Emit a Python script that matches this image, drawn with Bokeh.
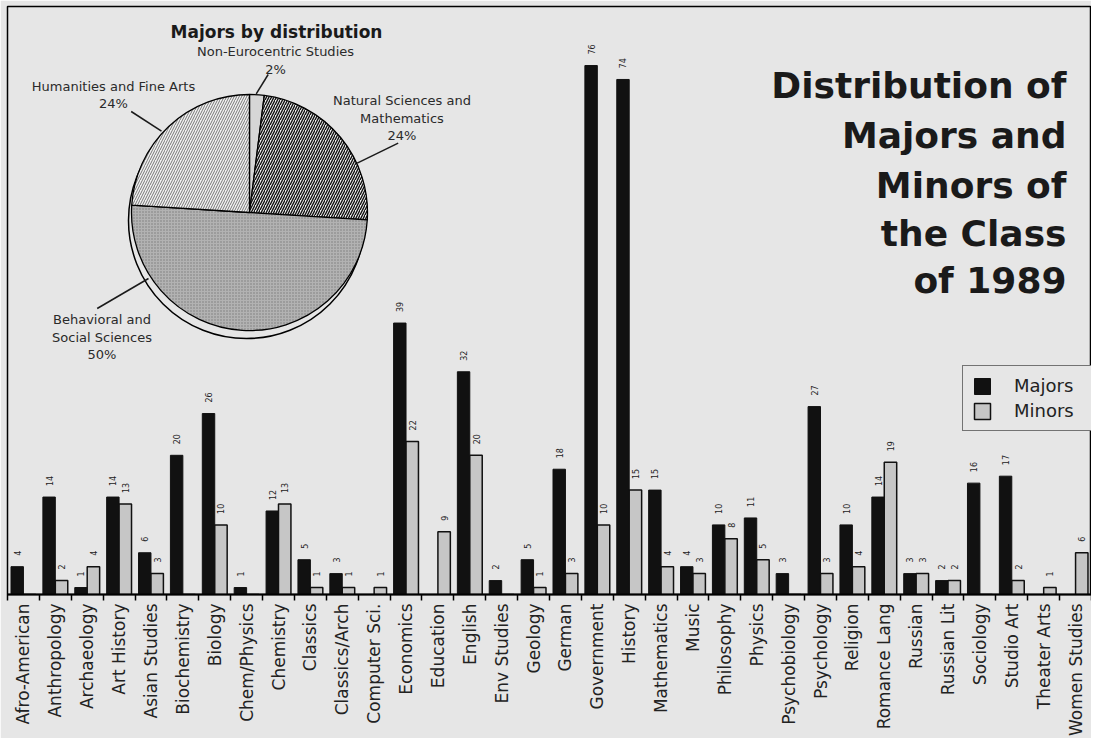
import math
from bokeh.plotting import figure
from bokeh.models import (Range1d, FixedTicker, CustomJSTickFormatter, ColumnDataSource,
                          Legend, LegendItem)
from bokeh.core.properties import value
from bokeh.embed import file_html
from bokeh.resources import INLINE

# ---------------- data ----------------
categories = ["Afro-American", "Anthropology", "Archaeology", "Art History", "Asian Studies",
              "Biochemistry", "Biology", "Chem/Physics", "Chemistry", "Classics",
              "Classics/Arch", "Computer Sci.", "Economics", "Education", "English",
              "Env Studies", "Geology", "German", "Government", "History", "Mathematics",
              "Music", "Philosophy", "Physics", "Psychobiology", "Psychology", "Religion",
              "Romance Lang", "Russian", "Russian Lit", "Sociology", "Studio Art",
              "Theater Arts", "Women Studies"]
majors = [4, 14, 1, 14, 6, 20, 26, 1, 12, 5, 3, 0, 39, 0, 32, 2, 5, 18, 76, 74, 15, 4,
          10, 11, 3, 27, 10, 14, 3, 2, 16, 17, 0, 0]
minors = [0, 2, 4, 13, 3, 0, 10, 0, 13, 1, 1, 1, 22, 9, 20, 0, 1, 3, 10, 15, 4, 3,
          8, 5, 0, 3, 4, 19, 3, 2, 0, 2, 1, 6]
pie_labels = ["Non-Eurocentric Studies", "Natural Sciences and\nMathematics",
              "Behavioral and\nSocial Sciences", "Humanities and Fine Arts"]
pie_pcts = [2, 24, 50, 24]
pie_title = "Majors by distribution"
title_lines = ["Distribution of", "Majors and", "Minors of", "the Class", "of 1989"]
legend_labels = ["Majors", "Minors"]

# ---------------- layout helpers ----------------
FONT = "DejaVu Sans"
BG = "#e6e6e6"
N = len(categories)
FRAME_L, FRAME_T, FRAME_W, FRAME_H = 7, 6, 1084, 588
BOTTOM = FRAME_T + FRAME_H
YMAX = FRAME_H / 6.96


def dx(sx):
    return (sx - FRAME_L) / FRAME_W * N


def dy(sy):
    return (BOTTOM - sy) / FRAME_H * YMAX


p = figure(frame_width=FRAME_W, frame_height=FRAME_H,
           x_range=Range1d(0, N), y_range=Range1d(0, YMAX),
           y_axis_location=None, toolbar_location=None, output_backend="svg",
           min_border_left=FRAME_L, min_border_right=0, min_border_top=FRAME_T,
           min_border_bottom=0,
           background_fill_color=BG, border_fill_color=BG,
           outline_line_color="black", outline_line_width=1.5)
p.grid.visible = False

# ---------------- bars ----------------
BW = 0.39
centers = [i + 0.5 for i in range(N)]
src = ColumnDataSource(dict(xm=[c - BW / 2 for c in centers], xn=[c + BW / 2 for c in centers],
                            majors=majors, minors=minors))
r_maj = p.vbar(x="xm", top="majors", width=BW, source=src,
               fill_color="#111111", line_color="#111111", line_width=1)
r_min = p.vbar(x="xn", top="minors", width=BW, source=src,
               fill_color="#c6c6c6", line_color="#111111", line_width=1.5)

lx, ly, lt = [], [], []
for i, c in enumerate(centers):
    if majors[i] > 0:
        lx.append(c - BW / 2); ly.append(majors[i]); lt.append(str(majors[i]))
    if minors[i] > 0:
        lx.append(c + BW / 2); ly.append(minors[i]); lt.append(str(minors[i]))
p.text(x=lx, y=ly, text=lt, angle=math.pi / 2, text_align="left", text_baseline="middle",
       y_offset=-11, text_font=value(FONT), text_font_size="8px", text_color="#222222")

# ---------------- axis ----------------
ax = p.xaxis[0]
ax.ticker = FixedTicker(ticks=centers, minor_ticks=list(range(N + 1)))
ax.formatter = CustomJSTickFormatter(args=dict(cats=categories),
                                     code="return cats[Math.floor(tick)] || '';")
ax.major_tick_line_color = None
ax.minor_tick_in = 0
ax.minor_tick_out = 6
ax.minor_tick_line_width = 1.5
ax.minor_tick_line_color = "black"
ax.axis_line_width = 2
ax.axis_line_color = "black"
ax.major_label_orientation = math.pi / 2
ax.major_label_standoff = 3
ax.major_label_text_font = FONT
ax.major_label_text_font_size = "17px"
ax.major_label_text_color = "#222222"

# ---------------- legend ----------------
legend = Legend(items=[LegendItem(label=legend_labels[0], renderers=[r_maj]),
                       LegendItem(label=legend_labels[1], renderers=[r_min])],
                location=(962 - FRAME_L, BOTTOM - 431), margin=0, padding=9, spacing=4,
                glyph_width=20, glyph_height=20, label_standoff=22, label_width=74,
                label_text_font=FONT, label_text_font_size="18px", label_text_color="#222222",
                border_line_color="black", border_line_width=1.5,
                background_fill_color=BG, background_fill_alpha=1)
p.add_layout(legend)

# ---------------- title ----------------
title_baselines = [85, 135, 185, 233, 280]
p.text(x=[dx(1066)] * len(title_lines), y=[dy(b) for b in title_baselines], text=title_lines,
       text_align="right", text_baseline="alphabetic", text_font=value(FONT),
       text_font_style="bold", text_font_size="36px", text_color="#1a1a1a")

# ---------------- pie ----------------
CX, CY, R = 249, 212, 118
p.circle(x=[dx(CX - 3)], y=[dy(CY + 8)], radius=R, radius_units="screen",
         fill_color=BG, line_color="black", line_width=1.5)

styles = [dict(fill_color="#d6d6d6", hatch_pattern=" "),
          dict(fill_color="#f0f0f0", hatch_pattern="/", hatch_color="#111111",
               hatch_scale=5, hatch_weight=1.4),
          dict(fill_color="#b2b2b2", hatch_pattern=".", hatch_color="#7a7a7a",
               hatch_scale=3, hatch_weight=1),
          dict(fill_color="#f2f2f2", hatch_pattern="/", hatch_color="#555555",
               hatch_scale=5, hatch_weight=0.8)]
cum = 0
for pct, st in zip(pie_pcts, styles):
    a0 = math.radians(90 - cum * 3.6)
    cum += pct
    a1 = math.radians(90 - cum * 3.6)
    p.wedge(x=[dx(CX)], y=[dy(CY)], radius=R, radius_units="screen",
            start_angle=a0, end_angle=a1, direction="clock",
            line_color="black", line_width=1.3, **st)

p.text(x=[dx(276)], y=[dy(31)], text=[pie_title], text_align="center",
       text_baseline="middle", text_font=value(FONT), text_font_style="bold",
       text_font_size="17px", text_color="#1a1a1a")

label_pos = [(275, 60), (401.5, 117.5), (101.5, 336.5), (113, 94.5)]
p.text(x=[dx(x) for x, _ in label_pos], y=[dy(y) for _, y in label_pos],
       text=[f"{l}\n{v}%" for l, v in zip(pie_labels, pie_pcts)],
       text_align="center", text_baseline="middle", text_line_height=1.15,
       text_font=value(FONT), text_font_size="13px", text_color="#2a2a2a")

leaders = [((267.7, 74), (255.7, 93.3)), ((397.7, 142.7), (356.7, 162.7)),
           ((148, 278), (96.7, 308)), ((130.7, 111), (161, 130.7))]
p.segment(x0=[dx(a[0]) for a, _ in leaders], y0=[dy(a[1]) for a, _ in leaders],
          x1=[dx(b[0]) for _, b in leaders], y1=[dy(b[1]) for _, b in leaders],
          line_color="#1a1a1a", line_width=1.5)

open("out.html", "w").write(file_html(p, INLINE))
